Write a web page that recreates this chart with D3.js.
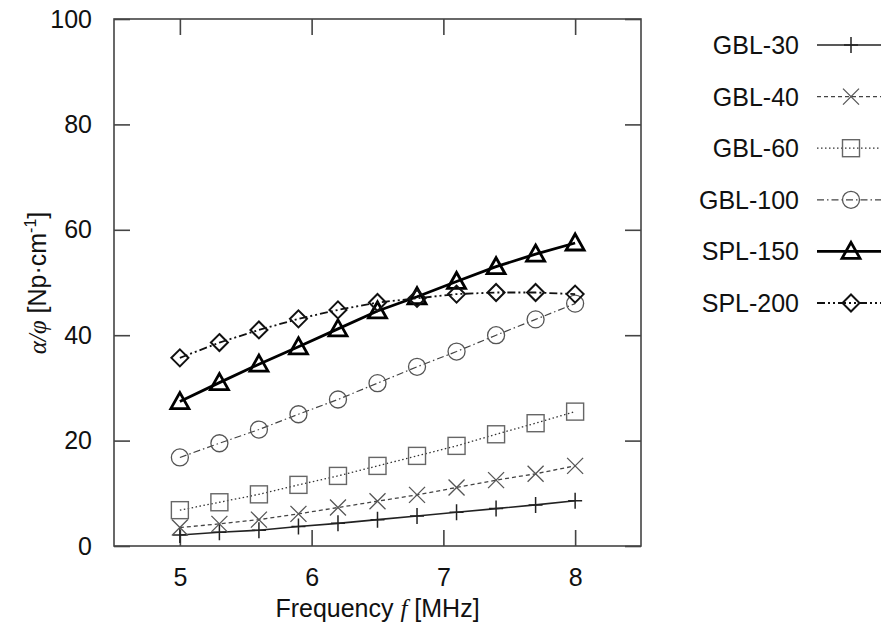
<!DOCTYPE html>
<html><head><meta charset="utf-8">
<script src="https://cdn.jsdelivr.net/npm/d3@7"></script>
<style>body{margin:0;background:#fff}svg{font-family:"Liberation Sans",Arial,sans-serif}</style>
</head><body>
<svg id="c" width="887" height="627"></svg>
<script>
const freqs = [5.0,5.3,5.6,5.9,6.2,6.5,6.8,7.1,7.4,7.7,8.0];
const gbl30  = [2.1,2.6,3.0,3.7,4.3,5.0,5.7,6.4,7.1,7.8,8.6];
const gbl40  = [3.5,4.2,5.0,6.1,7.3,8.5,9.7,11.1,12.5,13.7,15.2];
const gbl60  = [6.8,8.3,9.8,11.6,13.3,15.2,17.1,19.0,21.2,23.3,25.5];
const gbl100 = [16.8,19.5,22.1,25.0,27.8,30.9,34.0,36.9,40.0,43.0,46.0];
const spl150 = [27.4,31.0,34.5,37.8,41.2,44.6,47.3,50.2,53.0,55.4,57.5];
const spl200 = [35.7,38.6,41.0,43.1,44.8,46.2,47.0,47.8,48.1,48.1,47.8];
const seriesNames = ["GBL-30","GBL-40","GBL-60","GBL-100","SPL-150","SPL-200"];
const xTicks = [5,6,7,8];
const yTicks = [0,20,40,60,80,100];

const series = [
  {name:seriesNames[0], values:gbl30,  marker:"plus",    dash:null,            width:1.6, color:"#222", mcolor:"#222", mw:1.5},
  {name:seriesNames[1], values:gbl40,  marker:"cross",   dash:"4,3",           width:1.3, color:"#444", mcolor:"#555", mw:1.3},
  {name:seriesNames[2], values:gbl60,  marker:"square",  dash:"1.5,2.5",       width:1.3, color:"#333", mcolor:"#666", mw:1.4},
  {name:seriesNames[3], values:gbl100, marker:"circle",  dash:"7,3,1.5,3",     width:1.2, color:"#444", mcolor:"#555", mw:1.3},
  {name:seriesNames[4], values:spl150, marker:"triangle",dash:null,            width:2.8, color:"#000", mcolor:"#000", mw:2.8},
  {name:seriesNames[5], values:spl200, marker:"diamond", dash:"8,3,2,3,2,3",   width:1.8, color:"#111", mcolor:"#111", mw:2.0}
];

const svg = d3.select("#c");
const L=114, R=641, T=19, B=546;
const x = d3.scaleLinear().domain([4.5,8.5]).range([L,R]);
const y = d3.scaleLinear().domain([0,100]).range([B,T]);
const tk = 16;
const FS = 25;

svg.append("rect").attr("x",L).attr("y",T).attr("width",R-L).attr("height",B-T)
  .attr("fill","none").attr("stroke","#444").attr("stroke-width",1.6);

const axB = svg.append("g").attr("transform",`translate(0,${B})`)
  .call(d3.axisBottom(x).tickValues(xTicks).tickSize(-tk).tickPadding(22).tickFormat(d3.format("d")));
const axT = svg.append("g").attr("transform",`translate(0,${T})`)
  .call(d3.axisTop(x).tickValues(xTicks).tickSize(-tk).tickFormat(""));
const axL = svg.append("g").attr("transform",`translate(${L},0)`)
  .call(d3.axisLeft(y).tickValues(yTicks).tickSize(-tk).tickPadding(22).tickFormat(d3.format("d")));
const axR = svg.append("g").attr("transform",`translate(${R},0)`)
  .call(d3.axisRight(y).tickValues(yTicks).tickSize(-tk).tickFormat(""));
[axB,axT,axL,axR].forEach(a=>{
  a.select(".domain").remove();
  a.selectAll(".tick line").attr("stroke","#444").attr("stroke-width",1.6);
  a.selectAll("text").attr("font-size",FS).attr("fill","#111").attr("font-family","Liberation Sans, Arial, sans-serif");
});

function drawMarker(g, type, cx, cy, s){
  const m = g.append("g").attr("transform",`translate(${cx},${cy})`)
    .attr("fill","none").attr("stroke",s.mcolor).attr("stroke-width",s.mw);
  if(type==="plus"){ m.append("path").attr("d","M-7,0H7M0,-8V8"); }
  else if(type==="cross"){ m.append("path").attr("d","M-8,-8L8,8M-8,8L8,-8"); }
  else if(type==="square"){ m.append("rect").attr("x",-8.5).attr("y",-8.5).attr("width",17).attr("height",17); }
  else if(type==="circle"){ m.append("circle").attr("r",8.5); }
  else if(type==="triangle"){ m.append("path").attr("d","M0,-9L9,7H-9Z").attr("stroke-linejoin","miter"); }
  else if(type==="diamond"){ m.append("path").attr("d","M0,-8.5L8.5,0L0,8.5L-8.5,0Z"); }
}

const line = d3.line().x((d,i)=>x(freqs[i])).y(d=>y(d));
series.forEach(s=>{
  const g = svg.append("g");
  g.append("path").datum(s.values).attr("d",line).attr("fill","none")
    .attr("stroke",s.color).attr("stroke-width",s.width)
    .attr("stroke-dasharray",s.dash);
  s.values.forEach((v,i)=>drawMarker(g,s.marker,x(freqs[i]),y(v),s));
});

const legY = d3.scalePoint().domain(seriesNames).range([45,303]);
series.forEach(s=>{
  const yy = legY(s.name);
  svg.append("text").attr("x",799).attr("y",yy).attr("dy","0.36em").attr("text-anchor","end")
    .attr("font-size",FS).attr("fill","#111").text(s.name);
  svg.append("line").attr("x1",817).attr("x2",881).attr("y1",yy).attr("y2",yy)
    .attr("stroke",s.color).attr("stroke-width",s.width).attr("stroke-dasharray",s.dash);
  drawMarker(svg, s.marker, 851, yy, s);
});

const xt = svg.append("text").attr("x",(L+R)/2).attr("y",617).attr("text-anchor","middle")
  .attr("font-size",FS).attr("fill","#111");
xt.append("tspan").text("Frequency ");
xt.append("tspan").attr("font-style","italic").attr("font-family","Liberation Serif, serif").text("f");
xt.append("tspan").text(" [MHz]");

const yt = svg.append("text").attr("transform","translate(46,283) rotate(-90)").attr("text-anchor","middle")
  .attr("font-size",FS).attr("fill","#111");
yt.append("tspan").attr("font-style","italic").attr("font-family","Liberation Serif, serif").text("α/φ");
yt.append("tspan").text(" [Np·cm");
yt.append("tspan").attr("font-size",16).attr("dy",-10).text("-1");
yt.append("tspan").attr("dy",10).text("]");
</script>
</body></html>
